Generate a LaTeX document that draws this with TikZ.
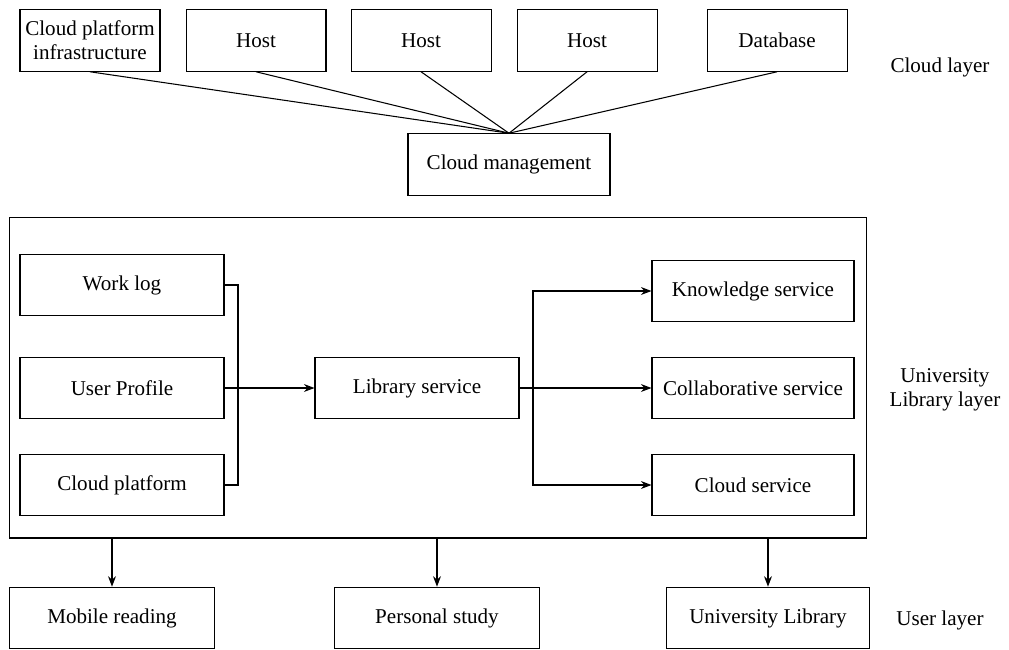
\documentclass[tikz,border=0pt]{standalone}
\usepackage{fontspec}
\setmainfont{Liberation Serif}
\usetikzlibrary{arrows.meta,positioning}

\begin{document}
\begin{tikzpicture}[x=0.02cm,y=-0.02cm,>={Stealth[length=6pt,width=4.5pt]},
                    line width=0.6pt,font=\fontsize{12}{13.6}\selectfont]
      \tikzstyle{box}=[draw,minimum height=1.23cm,inner sep=2pt,align=center]
      \tikzstyle{top}=[box,minimum width=2.8cm]
      \tikzstyle{wide}=[box,minimum width=4.08cm]

      \useasboundingbox (0,0) rectangle (1009,650);

      % cloud layer
      \node[top]  (infra)               at (90,40.5)  {Cloud platform\\infrastructure};
      \node[top]  (hosta) [right=0.5cm of infra]      {Host};
      \node[top]  (hostb) [right=0.48cm of hosta]     {Host};
      \node[top]  (hostc) [right=0.5cm of hostb]      {Host};
      \node[top]  (db)    [right=0.98cm of hostc]     {Database};
      \node[box,minimum width=4.04cm] (mgmt) at (509,164.5) {Cloud management};

      \foreach \n in {infra,hosta,hostb,hostc,db}
        \draw (\n.south) -- (mgmt.north);

      % university library layer
      \node[draw,minimum width=17.16cm,minimum height=6.42cm] (lib) at (438,377.5) {};

      \node[wide] (log)     at (122,285) {Work log};
      \node[wide] (profile) at (122,388) {User Profile};
      \node[wide] (cloudp)  at (122,485) {Cloud platform};
      \node[wide] (libsrv)  at (417,388) {Library service};
      \node[box,minimum width=4.04cm] (know)  at (753,291) {Knowledge service};
      \node[box,minimum width=4.04cm] (collab) at (753,388) {Collaborative service};
      \node[box,minimum width=4.04cm] (cserv) at (753,485) {Cloud service};

      \coordinate (join)  at (238,388);
      \coordinate (split) at (533,388);

      \draw (log.east) -| (join);
      \draw (cloudp.east) -| (join);
      \draw[->] (profile.east) -- (libsrv.west);
      \draw[->] (libsrv.east) -- (collab.west);
      \draw[->] (split) |- (know.west);
      \draw[->] (split) |- (cserv.west);

      % user layer
      \node[box,minimum width=4.1cm] (mobile) at (112,618) {Mobile reading};
      \node[box,minimum width=4.1cm] (study)  at (437,618) {Personal study};
      \node[box,minimum width=4.06cm] (ulib)  at (768,618) {University Library};

      \foreach \n in {mobile,study,ulib}
        \draw[->] (\n.north |- lib.south) -- (\n.north);

      % layer names
      \node (cloudl) at (940,67)  {Cloud layer};
      \node[align=center] (libl) at (945,390) {University\\Library layer};
      \node (userl)  at (940,620) {User layer};

\end{tikzpicture}
\end{document}
